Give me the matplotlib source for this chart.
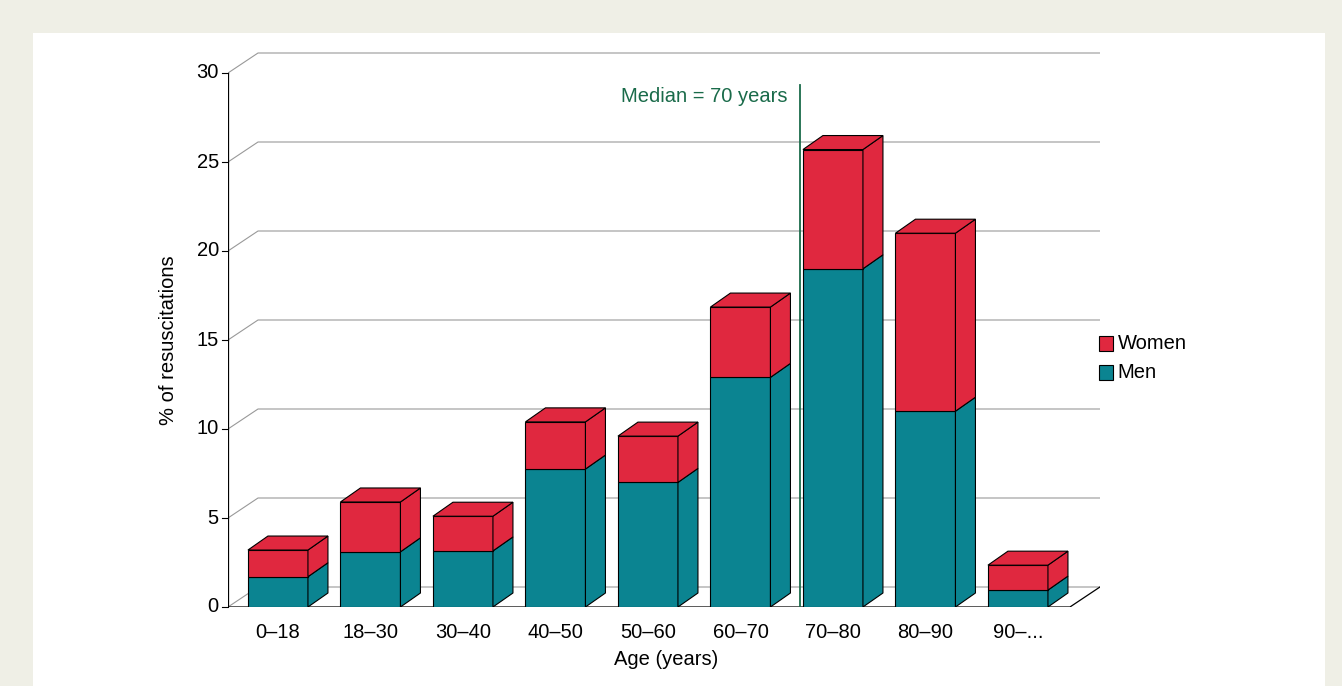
import matplotlib
matplotlib.use("Agg")
import matplotlib.pyplot as plt
from matplotlib.patches import Polygon, Rectangle

plt.rcParams["font.family"] = ["Liberation Sans", "DejaVu Sans"]

# data
age_groups = ["0–18", "18–30", "30–40", "40–50", "50–60", "60–70", "70–80", "80–90", "90–..."]
men = [1.7, 3.1, 3.15, 7.75, 7.0, 12.9, 19.0, 11.0, 0.95]
women = [1.5, 2.8, 1.95, 2.65, 2.6, 3.95, 6.7, 10.0, 1.4]
median_pos = 5.64
yticks = [0, 5, 10, 15, 20, 25, 30]

RED = "#E0283F"
TEAL = "#0B8491"
GREEN = "#1A6B4A"
FS = 14.5

W, H = 1342, 686
fig = plt.figure(figsize=(W / 100, H / 100), dpi=100)
fig.patch.set_facecolor("#EFEFE6")
fig.add_artist(Rectangle((33 / W, 0), (1325 - 33) / W, 1 - 33 / H, transform=fig.transFigure,
                         facecolor="white", edgecolor="none", zorder=0))

# axes: left at x=228px, y=0 at 607px; 92.5 px per category, 17.8 px per unit
ax = fig.add_axes([228 / W, (H - 607) / H, (1100 - 228) / W, (607 - 40) / H])
ax.set_xlim(-0.54, -0.54 + 872 / 92.5)
ax.set_ylim(0, 567 / 17.8)
ax.axis("off")

wdx, wdy = 30 / 92.5, 20 / 17.8   # wall depth
bdx, bdy = 20 / 92.5, 14 / 17.8   # bar depth
bw = 60 / 92.5
x0 = -0.54
xr = (1070 - 278) / 92.5

# back wall gridlines and diagonals
for t in yticks:
    ax.plot([x0, x0 + wdx, xr + wdx], [t, t + wdy, t + wdy], color="#999999", lw=0.8, zorder=1)
    ax.plot([x0 - 0.06, x0], [t, t], color="black", lw=0.8, clip_on=False)
    ax.text(x0 - 0.1, t, str(t), ha="right", va="center", fontsize=FS)
# floor
ax.plot([x0, xr, xr + wdx], [0, 0, wdy], color="black", lw=0.9, zorder=1)
ax.plot([x0, x0], [0, 30], color="black", lw=0.9, zorder=1)

def box(x, y0, y1, color, top):
    l, r = x - bw / 2, x + bw / 2
    ax.add_patch(Polygon([(l, y0), (r, y0), (r, y1), (l, y1)], closed=True,
                         fc=color, ec="black", lw=0.8, zorder=3))
    ax.add_patch(Polygon([(r, y0), (r + bdx, y0 + bdy), (r + bdx, y1 + bdy), (r, y1)], closed=True,
                         fc=color, ec="black", lw=0.8, zorder=3))
    if top:
        ax.add_patch(Polygon([(l, y1), (r, y1), (r + bdx, y1 + bdy), (l + bdx, y1 + bdy)], closed=True,
                             fc=color, ec="black", lw=0.8, zorder=3))

for i, (m, w) in enumerate(zip(men, women)):
    box(i, 0, m, TEAL, False)
    box(i, m, m + w, RED, True)
    ax.text(i, -0.9, age_groups[i], ha="center", va="top", fontsize=FS)

ax.text(4.2, -2.4, "Age (years)", ha="center", va="top", fontsize=FS)
ax.text(x0 - 0.64, 15, "% of resuscitations", rotation=90, ha="center", va="center", fontsize=FS)

# median line
ax.plot([median_pos, median_pos], [0, 29.3], color=GREEN, lw=1.3, zorder=2)
ax.text(median_pos - 0.13, 28.7, "Median = 70 years", ha="right", va="center", fontsize=FS, color=GREEN)

# legend
for j, (lab, col) in enumerate([("Women", RED), ("Men", TEAL)]):
    yy = 14.8 - j * 1.62
    ax.add_patch(Rectangle((8.88, yy - 0.4), 0.15, 0.8, fc=col, ec="black", lw=0.8, clip_on=False))
    ax.text(9.08, yy, lab, ha="left", va="center", fontsize=FS)

fig.savefig("out.png", dpi=100)
